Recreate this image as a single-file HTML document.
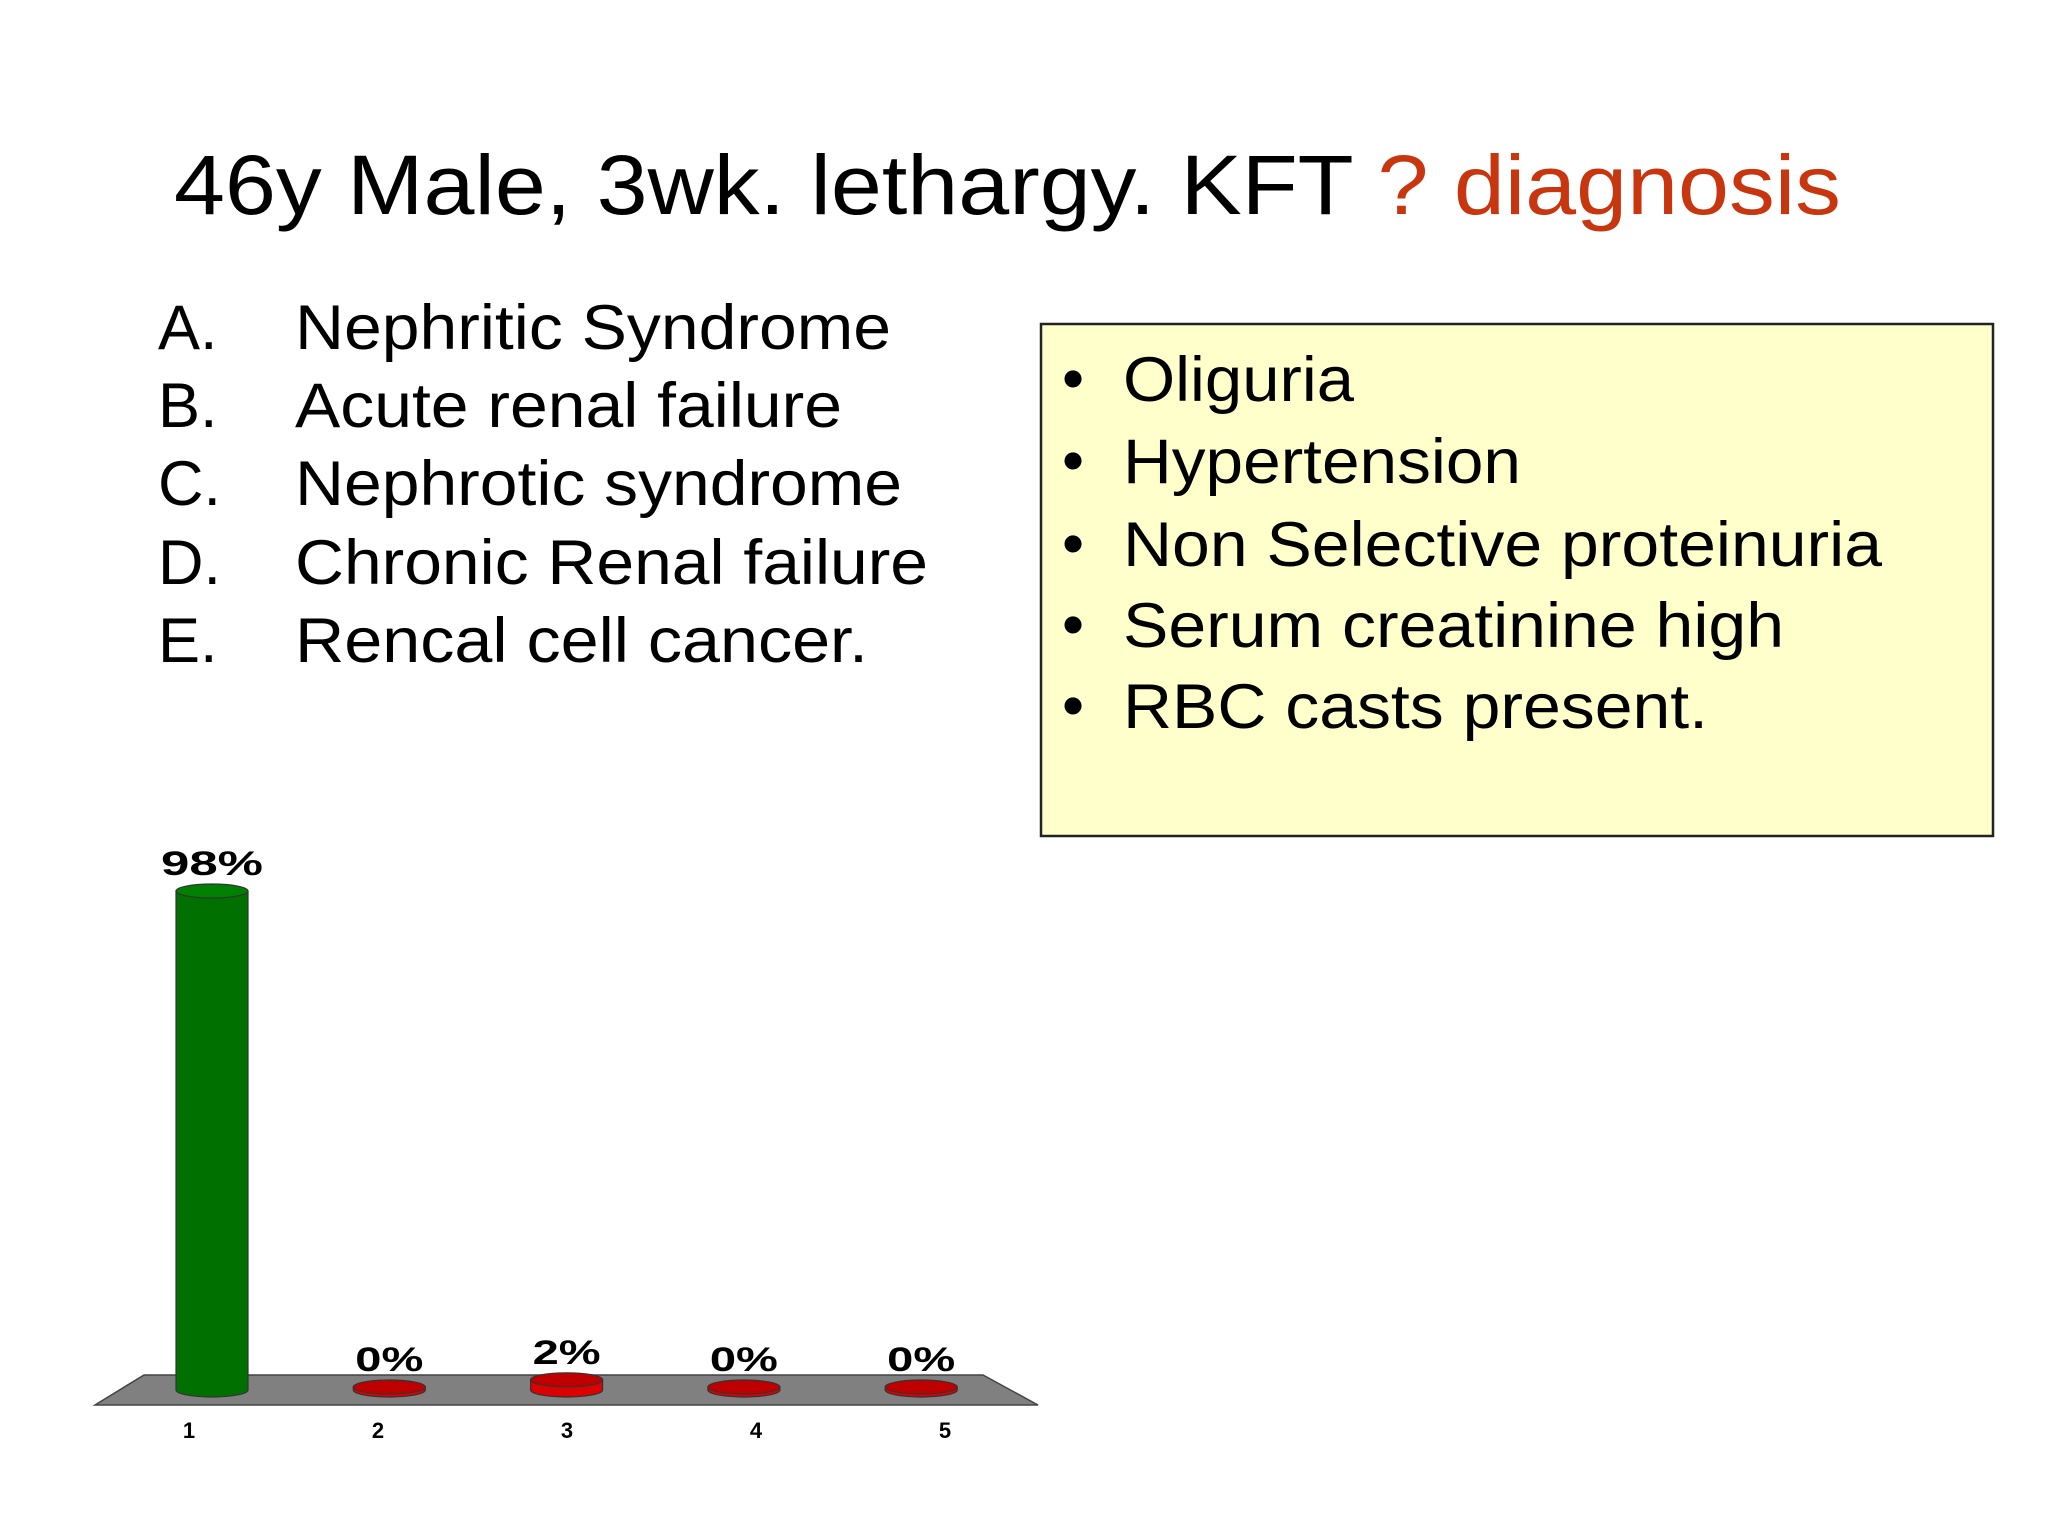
<!DOCTYPE html>
<html><head><meta charset="utf-8"><style>
body{margin:0;width:2048px;height:1536px;background:#fff;overflow:hidden;font-family:"Liberation Sans",sans-serif}
svg{display:block}
</style></head><body>
<svg id="s" width="2048" height="1536">
<text x="174" y="214" font-size="84" fill="#000" textLength="1667" lengthAdjust="spacingAndGlyphs">46y Male, 3wk. lethargy. KFT <tspan fill="#c8360f">? diagnosis</tspan></text>
<g font-size="63" fill="#000" lengthAdjust="spacingAndGlyphs">
<text x="158" y="349">A.</text><text x="295" y="349" textLength="596" lengthAdjust="spacingAndGlyphs">Nephritic Syndrome</text>
<text x="158" y="427">B.</text><text x="295" y="427" textLength="547" lengthAdjust="spacingAndGlyphs">Acute renal failure</text>
<text x="158" y="505">C.</text><text x="295" y="505" textLength="607" lengthAdjust="spacingAndGlyphs">Nephrotic syndrome</text>
<text x="158" y="584">D.</text><text x="295" y="584" textLength="633" lengthAdjust="spacingAndGlyphs">Chronic Renal failure</text>
<text x="158" y="662">E.</text><text x="295" y="662" textLength="573" lengthAdjust="spacingAndGlyphs">Rencal cell cancer.</text>
</g>
<rect x="1041" y="324" width="952" height="512" fill="#ffffcc" stroke="#222" stroke-width="2.5"/>
<g font-size="63" fill="#000">
<text x="1062" y="400">•</text><text x="1123" y="401" textLength="231" lengthAdjust="spacingAndGlyphs">Oliguria</text>
<text x="1062" y="482">•</text><text x="1123" y="483" textLength="398" lengthAdjust="spacingAndGlyphs">Hypertension</text>
<text x="1062" y="565">•</text><text x="1123" y="566" textLength="759" lengthAdjust="spacingAndGlyphs">Non Selective proteinuria</text>
<text x="1062" y="646">•</text><text x="1123" y="647" textLength="661" lengthAdjust="spacingAndGlyphs">Serum creatinine high</text>
<text x="1062" y="727">•</text><text x="1123" y="728" textLength="585" lengthAdjust="spacingAndGlyphs">RBC casts present.</text>
</g>
<polygon points="144,1375 983,1375 1038,1405 95,1405" fill="#808080" stroke="#444" stroke-width="1.5"/>
<g id="chart"></g>
</svg>
<script>
const categories=["1","2","3","4","5"];
const values=[98,0,2,0,0];
const valueLabels=["98%","0%","2%","0%","0%"];
const correct=[true,false,false,false,false];
const g=document.getElementById('chart');
const NS="http://www.w3.org/2000/svg";
const base=1390, top0=891, barW=72;
function y(v){return base-(base-top0)*v/98;}
function bx(i){return 212+i*177.3;}
function lx(i){return 189+i*189;}
function mk(t,a){const e=document.createElementNS(NS,t);for(const k in a)e.setAttribute(k,a[k]);g.appendChild(e);return e;}
values.forEach((v,i)=>{
 const cx=bx(i), yt=Math.min(y(v),base-3), col=correct[i]?"#007000":"#dd0000";
 const body=mk('path',{d:`M${cx-barW/2},${yt} L${cx-barW/2},${base} A${barW/2},7 0 0 0 ${cx+barW/2},${base} L${cx+barW/2},${yt} Z`,fill:col,stroke:"#333","stroke-width":1.2});
 
 
 const cap=mk('ellipse',{cx:cx,cy:yt,rx:barW/2,ry:7,fill:correct[i]?"#008000":"#c00000",stroke:"#333","stroke-width":1.2});
 
 
 const label=valueLabels[i];
 const t=mk('text',{x:cx-label.length*17,y:yt-16,"font-size":34,"font-weight":"bold",textLength:label.length*34,lengthAdjust:"spacingAndGlyphs"});
 t.textContent=label;
 
 
 const c=mk('text',{x:lx(i),y:1438,"text-anchor":"middle","font-size":22,"font-weight":"bold"});
 c.textContent=categories[i];
 
 
});
</script>
</body></html>
